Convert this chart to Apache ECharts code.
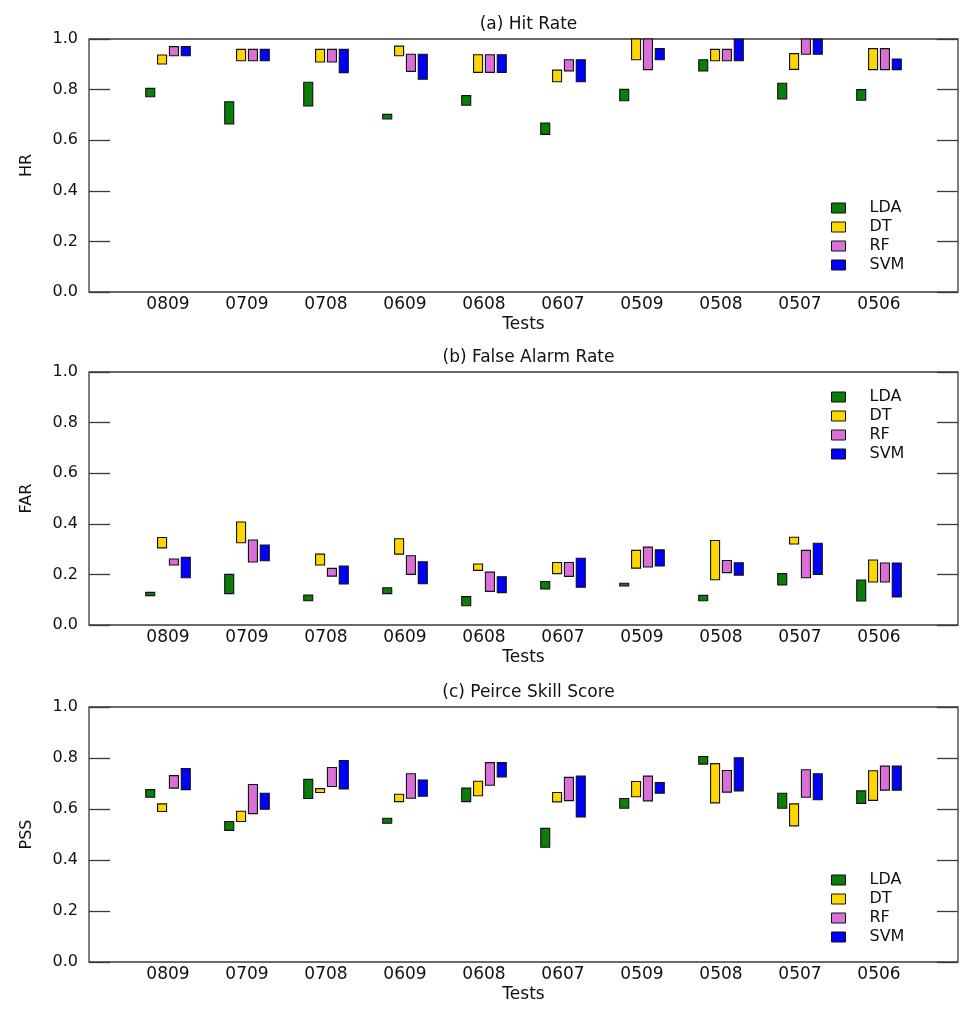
<!DOCTYPE html>
<html>
<head>
<meta charset="utf-8">
<script src="https://cdn.jsdelivr.net/npm/echarts@6/dist/echarts.min.js"></script>
<style>
  html, body { margin: 0; padding: 0; background: #fff; }
  #chart { width: 976px; height: 1018px; }
</style>
</head>
<body>
<div id="chart"></div>
<script>
// ---- data ----
const tests = ['0809','0709','0708','0609','0608','0607','0509','0508','0507','0506'];
const methods = ['LDA','DT','RF','SVM'];
const yTicks = [0, 0.2, 0.4, 0.6, 0.8, 1.0];
const panelTitles = ['(a) Hit Rate', '(b) False Alarm Rate', '(c) Peirce Skill Score'];
const panelYNames = ['HR', 'FAR', 'PSS'];

// each entry: [low, high] per test
const hrLDA = [[0.772,0.805],[0.664,0.752],[0.735,0.829],[0.684,0.702],[0.738,0.776],[0.623,0.668],[0.756,0.801],[0.874,0.918],[0.763,0.825],[0.758,0.800]];
const hrDT  = [[0.901,0.937],[0.914,0.959],[0.909,0.959],[0.934,0.972],[0.868,0.938],[0.831,0.877],[0.918,1.000],[0.914,0.959],[0.880,0.942],[0.879,0.962]];
const hrRF  = [[0.934,0.970],[0.914,0.959],[0.909,0.959],[0.872,0.940],[0.868,0.938],[0.874,0.918],[0.879,1.000],[0.914,0.959],[0.940,1.000],[0.879,0.962]];
const hrSVM = [[0.934,0.970],[0.914,0.959],[0.867,0.959],[0.841,0.940],[0.868,0.938],[0.831,0.918],[0.918,0.962],[0.914,1.000],[0.940,1.000],[0.879,0.921]];

const farLDA = [[0.116,0.129],[0.124,0.200],[0.096,0.118],[0.124,0.147],[0.076,0.112],[0.142,0.172],[0.154,0.165],[0.096,0.117],[0.158,0.203],[0.095,0.178]];
const farDT  = [[0.305,0.346],[0.325,0.407],[0.237,0.280],[0.280,0.341],[0.216,0.241],[0.203,0.247],[0.225,0.295],[0.179,0.334],[0.320,0.347],[0.170,0.257]];
const farRF  = [[0.237,0.261],[0.249,0.336],[0.193,0.224],[0.200,0.274],[0.133,0.209],[0.192,0.247],[0.229,0.308],[0.207,0.255],[0.187,0.295],[0.170,0.245]];
const farSVM = [[0.187,0.268],[0.254,0.316],[0.162,0.233],[0.163,0.250],[0.128,0.191],[0.149,0.264],[0.233,0.297],[0.197,0.246],[0.200,0.323],[0.111,0.245]];

const pssLDA = [[0.646,0.676],[0.516,0.551],[0.641,0.716],[0.544,0.564],[0.629,0.682],[0.450,0.524],[0.603,0.641],[0.776,0.806],[0.603,0.662],[0.622,0.671]];
const pssDT  = [[0.590,0.620],[0.551,0.591],[0.665,0.680],[0.629,0.658],[0.652,0.709],[0.628,0.665],[0.648,0.708],[0.624,0.778],[0.534,0.620],[0.634,0.750]];
const pssRF  = [[0.682,0.731],[0.582,0.696],[0.688,0.763],[0.642,0.738],[0.693,0.782],[0.633,0.724],[0.632,0.729],[0.666,0.751],[0.646,0.754],[0.674,0.768]];
const pssSVM = [[0.676,0.759],[0.599,0.662],[0.679,0.790],[0.650,0.714],[0.726,0.782],[0.569,0.729],[0.662,0.704],[0.671,0.801],[0.636,0.738],[0.674,0.768]];

const panelData = [
  [hrLDA, hrDT, hrRF, hrSVM],
  [farLDA, farDT, farRF, farSVM],
  [pssLDA, pssDT, pssRF, pssSVM]
];

// ---- styling ----
const methodColors = ['#0a7d0a', '#ffd700', '#da70d6', '#0000ff'];
const barOffsets = [-0.225, -0.075, 0.075, 0.225]; // in x-axis units
const barHalfWidth = 0.057;
const FONT = 'DejaVu Sans';
const frameColor = '#3a3a3a';
const textColor = '#111';

const grids = [
  { left: 89, width: 869, top: 39, height: 253 },
  { left: 89, width: 869, top: 372, height: 253 },
  { left: 89, width: 869, top: 707, height: 255 }
];
const legendTops = [200, 389, 872];

const option = {
  animation: false,
  backgroundColor: '#fff',
  textStyle: { fontFamily: FONT },
  title: [],
  legend: [],
  grid: [],
  xAxis: [],
  yAxis: [],
  series: []
};

grids.forEach((g, p) => {
  option.grid.push(Object.assign({ show: true, borderColor: frameColor, borderWidth: 1.3, backgroundColor: 'transparent' }, g));
  option.title.push({
    text: panelTitles[p],
    left: g.left + g.width / 2,
    top: g.top - 28,
    textAlign: 'center',
    textStyle: { fontFamily: FONT, fontSize: 17, fontWeight: 'normal', color: textColor }
  });
  option.legend.push({
    data: methods,
    orient: 'vertical',
    left: 831,
    top: legendTops[p],
    padding: 0,
    itemWidth: 14,
    itemHeight: 10,
    itemGap: 3,
    icon: 'rect',
    selectedMode: false,
    itemStyle: { borderColor: '#111', borderWidth: 1 },
    textStyle: { fontFamily: FONT, fontSize: 16, color: textColor, lineHeight: 14, padding: [0, 0, 0, 19] }
  });
  option.xAxis.push({
    type: 'value',
    gridIndex: p,
    min: 0,
    max: 11,
    interval: 1,
    name: 'Tests',
    nameLocation: 'middle',
    nameGap: 24,
    nameTextStyle: { fontFamily: FONT, fontSize: 17, color: textColor },
    axisLine: { show: false },
    axisTick: { show: false },
    splitLine: { show: false },
    axisLabel: {
      fontFamily: FONT, fontSize: 17, color: textColor, margin: 4,
      formatter: v => (v >= 1 && v <= tests.length) ? tests[v - 1] : ''
    }
  });
  option.yAxis.push({
    type: 'value',
    gridIndex: p,
    min: 0,
    max: 1,
    interval: 0.2,
    name: panelYNames[p],
    nameLocation: 'middle',
    nameGap: 54,
    nameTextStyle: { fontFamily: FONT, fontSize: 16, color: textColor },
    axisLine: { show: false },
    axisTick: { show: true, inside: true, length: 21, lineStyle: { color: frameColor, width: 1.3 } },
    splitLine: { show: false },
    axisLabel: { fontFamily: FONT, fontSize: 16, color: textColor, margin: 11, formatter: v => v.toFixed(1) }
  });
  option.yAxis.push({
    type: 'value',
    gridIndex: p,
    position: 'right',
    min: 0,
    max: 1,
    interval: 0.2,
    axisLine: { show: false },
    axisTick: { show: true, inside: true, length: 21, lineStyle: { color: frameColor, width: 1.3 } },
    splitLine: { show: false },
    axisLabel: { show: false }
  });

  methods.forEach((m, k) => {
    const off = barOffsets[k];
    const col = methodColors[k];
    option.series.push({
      type: 'custom',
      name: m,
      xAxisIndex: p,
      yAxisIndex: p * 2,
      itemStyle: { color: col, borderColor: '#111', borderWidth: 1 },
      encode: { x: 0, y: [1, 2] },
      data: panelData[p][k].map((r, i) => [i + 1, r[0], r[1]]),
      renderItem: function (params, api) {
        const x = api.value(0) + off;
        const lo = api.value(1), hi = api.value(2);
        const a = api.coord([x - barHalfWidth, hi]);
        const b = api.coord([x + barHalfWidth, lo]);
        return {
          type: 'rect',
          shape: { x: a[0], y: a[1], width: b[0] - a[0], height: b[1] - a[1] },
          style: { fill: col, stroke: '#111', lineWidth: 1.1 }
        };
      }
    });
  });
});

const chart = echarts.init(document.getElementById('chart'), null, { renderer: 'canvas' });
chart.setOption(option);
</script>
</body>
</html>
